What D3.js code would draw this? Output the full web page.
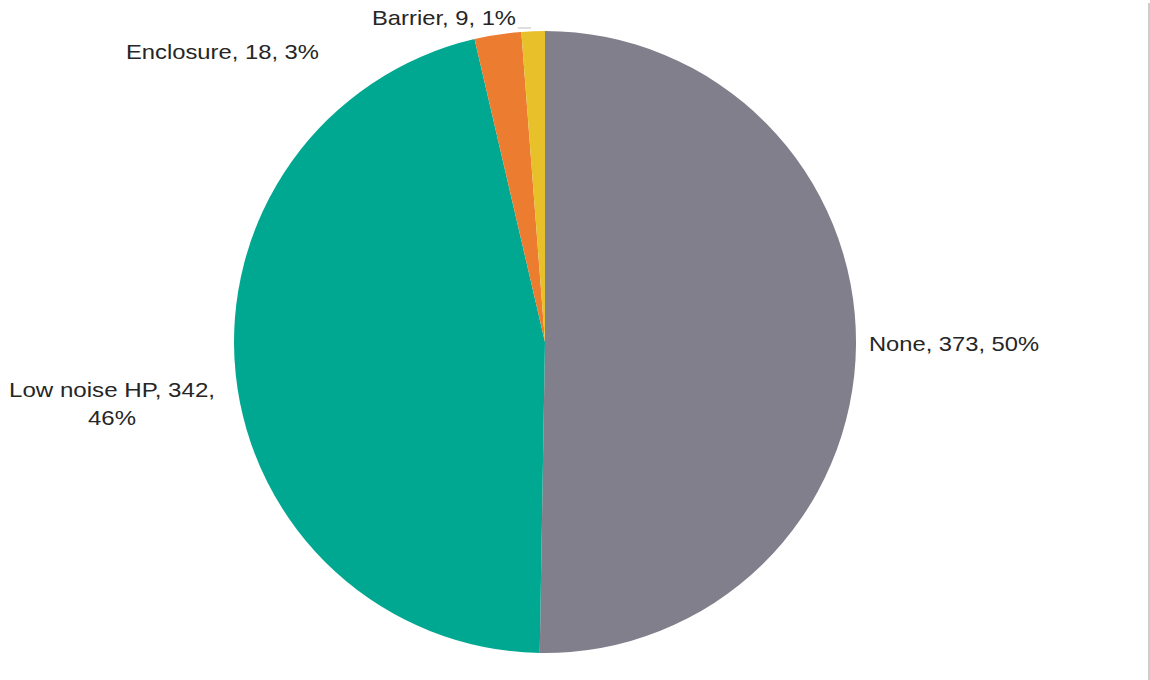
<!DOCTYPE html>
<html><head><meta charset="utf-8">
<script src="https://cdn.jsdelivr.net/npm/d3@7"></script>
<style>body{margin:0;background:#fff;} svg{display:block;} text{font-family:"Liberation Sans",Arial,sans-serif;fill:#262626;}</style>
</head><body>
<svg id="c" width="1150" height="680"></svg>
<script>
const categories = ["None", "Low noise HP", "Enclosure", "Barrier"];
const values = [373, 342, 18, 9];
const percents = ["50%", "46%", "3%", "1%"];
const colors = ["#817f8b", "#00a891", "#ec7c30", "#e8c02a"];

const svg = d3.select("#c");
svg.append("line").attr("x1",1149).attr("x2",1149).attr("y1",3).attr("y2",680).attr("stroke","#bdbdbd").attr("stroke-width",1.5);
const cx = 545, cy = 342, r = 311;
const pie = d3.pie().sort(null).value(d => d.v);
const data = categories.map((c,i)=>({c, v: values[i], p: percents[i], col: colors[i]}));
const arcs = pie(data);
const arc = d3.arc().innerRadius(0).outerRadius(r);
const g = svg.append("g").attr("transform",`translate(${cx},${cy})`);
g.selectAll("path").data(arcs).join("path").attr("d",arc).attr("fill",d=>d.data.col);

const fs = 21;
const lab = svg.append("g").attr("font-size", fs);
function txt(x, y, s, w, anchor) {
  return lab.append("text").attr("x",x).attr("y",y).attr("text-anchor",anchor||"start")
    .attr("textLength",w).attr("lengthAdjust","spacingAndGlyphs").text(s);
}
txt(869, 351, `${data[0].c}, ${data[0].v}, ${data[0].p}`, 170);
txt(112, 397, `${data[1].c}, ${data[1].v},`, 206, "middle");
txt(112, 425, `${data[1].p}`, 48, "middle");
txt(126, 59, `${data[2].c}, ${data[2].v}, ${data[2].p}`, 193);
txt(372, 25, `${data[3].c}, ${data[3].v}, ${data[3].p}`, 144);
svg.append("line").attr("x1",518).attr("x2",531).attr("y1",28).attr("y2",28).attr("stroke","#bfbfbf").attr("stroke-width",1);
</script>
</body></html>
